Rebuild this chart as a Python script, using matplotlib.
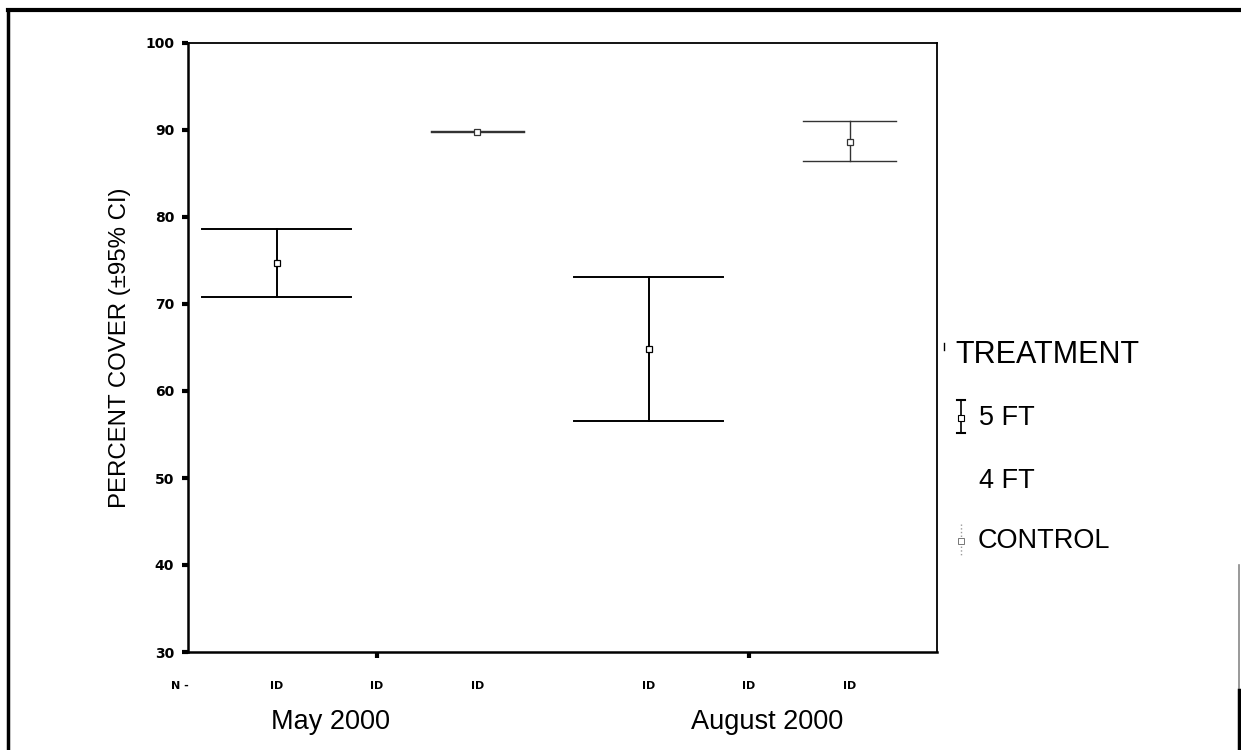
import numpy as np
import matplotlib
matplotlib.use('Agg')
import matplotlib.pyplot as plt
from matplotlib.lines import Line2D
from matplotlib.transforms import blended_transform_factory

# data
groups = ['May 2000', 'August 2000']
treatments = ['5 FT', '4 FT', 'CONTROL']
n_labels = ['ID', 'ID', 'ID', 'ID', 'ID', 'ID']
yticks = [30, 40, 50, 60, 70, 80, 90, 100]

mean_5ft = [74.7, 64.8]
lo_5ft = [70.8, 56.6]
hi_5ft = [78.6, 73.1]

mean_4ft = [np.nan, np.nan]
lo_4ft = [np.nan, np.nan]
hi_4ft = [np.nan, np.nan]

mean_ctrl = [89.8, 88.6]
lo_ctrl = [89.75, 86.4]
hi_ctrl = [89.85, 91.0]

W, H = 1241, 750


def px(x, y):
    # pixel position -> figure fraction
    return x / W, 1 - y / H


fig = plt.figure(figsize=(W / 100, H / 100), dpi=100)
fig.patch.set_facecolor('white')

left, right, top, bottom = 188, 937, 43, 652
ax = fig.add_axes([left / W, 1 - bottom / H, (right - left) / W, (bottom - top) / H])

group_pos = np.array([0.0, 1.0])
offset = 0.27
cap_half = [0.2, 0.0, 0.125]

series = [
    (mean_5ft, lo_5ft, hi_5ft, 'black', 1.4),
    (mean_4ft, lo_4ft, hi_4ft, 'white', 1.0),
    (mean_ctrl, lo_ctrl, hi_ctrl, '#333333', 1.0),
]

for i, (m, lo, hi, col, lw) in enumerate(series):
    xs = group_pos + (i - 1) * offset
    c = cap_half[i]
    for x, mm, l, h in zip(xs, m, lo, hi):
        if np.isnan(mm):
            continue
        ax.plot([x, x], [l, h], color=col, lw=lw)
        ax.plot([x - c, x + c], [h, h], color=col, lw=lw)
        ax.plot([x - c, x + c], [l, l], color=col, lw=lw)
        ax.plot(x, mm, marker='s', ms=5, mfc='white', mec=col, mew=0.9)

ax.set_xlim(-0.508, 1.505)
ax.set_ylim(30, 100)

font_num = ['Liberation Sans Narrow', 'DejaVu Sans']
ax.set_yticks(yticks)
ax.set_yticklabels([str(t) for t in yticks], fontsize=10, fontweight='bold',
                   family=font_num)
ax.tick_params(axis='y', direction='out', length=4, width=3, pad=6)

ax.set_xticks(group_pos)
ax.set_xticklabels([])
ax.tick_params(axis='x', direction='out', length=4, width=3)

for s in ['left', 'bottom']:
    ax.spines[s].set_linewidth(1.8)
for s in ['top', 'right']:
    ax.spines[s].set_linewidth(1.3)

trans = blended_transform_factory(ax.transData, ax.transAxes)
bar_x = (group_pos[:, None] + np.array([-offset, 0, offset])[None, :]).ravel()
for x, lab in zip(bar_x, n_labels):
    ax.text(x, -0.056, lab, transform=trans, ha='center', va='center',
            fontsize=8, fontweight='bold', family=font_num)
ax.text(-0.0105, -0.056, 'N -', transform=ax.transAxes, ha='center', va='center',
        fontsize=8, fontweight='bold', family=font_num)

lfont = ['Liberation Sans', 'DejaVu Sans']
group_label_x = [-0.124, 1.048]
for gx, lab in zip(group_label_x, groups):
    ax.text(gx, -0.115, lab, transform=trans, ha='center', va='center',
            fontsize=19.5, family=lfont)

fig.text(*px(120, 348), 'PERCENT COVER (±95% CI)', rotation=90, ha='center', va='center',
         fontsize=17.3, family=lfont)

# legend drawn by hand
fig.text(*px(955, 355), 'TREATMENT', ha='left', va='center', fontsize=22, family=lfont)
fig.text(*px(979, 418), treatments[0], ha='left', va='center', fontsize=19.5, family=lfont)
fig.text(*px(979, 481), treatments[1], ha='left', va='center', fontsize=19.5, family=lfont)
fig.text(*px(978, 541), treatments[2], ha='left', va='center', fontsize=19.5, family=lfont)


def fig_line(xs, ys, **kw):
    pts = [px(x, y) for x, y in zip(xs, ys)]
    fig.add_artist(Line2D([p[0] for p in pts], [p[1] for p in pts],
                          transform=fig.transFigure, **kw))


fig_line([961, 961], [400, 433], color='black', lw=1.2)
fig_line([957, 965], [400, 400], color='black', lw=1.5)
fig_line([957, 965], [433, 433], color='black', lw=1.5)
fig.add_artist(Line2D([px(961, 418)[0]], [px(961, 418)[1]], marker='s', ms=5,
                      mfc='white', mec='black', mew=0.8, transform=fig.transFigure))
fig_line([961, 961], [524, 556], color='#999999', lw=1.0, ls=':')
fig.add_artist(Line2D([px(961, 541)[0]], [px(961, 541)[1]], marker='s', ms=4,
                      mfc='white', mec='#777777', mew=0.7, transform=fig.transFigure))
fig_line([944, 944], [343, 350], color='black', lw=1.0)

# page frame from the scan
fig_line([8, 1241], [10, 10], color='black', lw=3)
fig_line([8, 8], [10, 750], color='black', lw=2.5)
fig_line([1239, 1239], [565, 690], color='#888888', lw=1.2)
fig_line([1239, 1239], [690, 750], color='black', lw=2.5)

fig.savefig('out.png', dpi=100, facecolor='white')
